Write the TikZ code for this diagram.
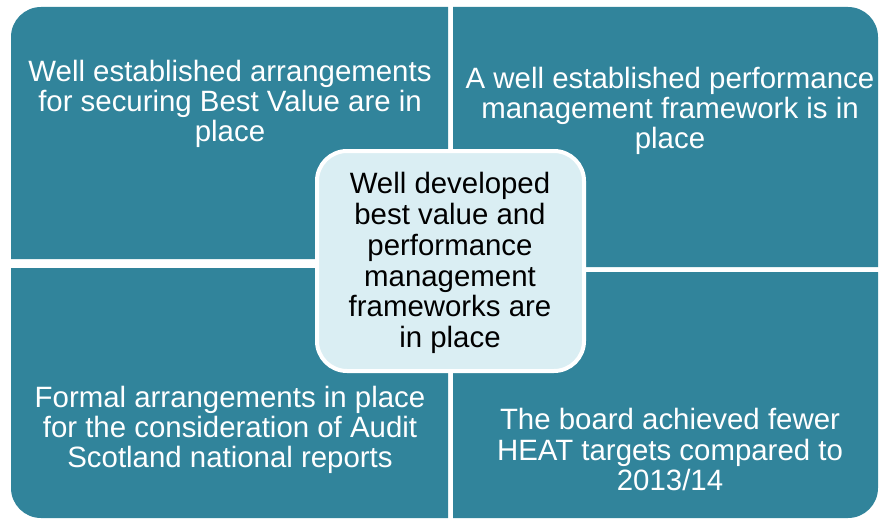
\documentclass[tikz,border=0pt]{standalone}
\usepackage{fontspec}
\setmainfont{Liberation Sans}
\definecolor{teal5}{HTML}{31849B}
\definecolor{lightc}{HTML}{DAEEF3}
\begin{document}
\begin{tikzpicture}[x=1pt,y=1pt,
  quad/.style={fill=teal5},
  qtext/.style={text=white,align=center,font=\fontsize{29.4}{30.2}\selectfont,inner sep=0pt},
  ctext/.style={text=black,align=center,font=\fontsize{29.4}{30.8}\selectfont,inner sep=0pt}]
\useasboundingbox (0,0) rectangle (879,-519);
% quadrants
\fill[quad] (11,-259) [rounded corners=30] -- (11,-7) [sharp corners] -- (448,-7) -- (448,-259) -- cycle;
\fill[quad] (453,-267) -- (453,-7) [rounded corners=30] -- (878,-7) [sharp corners] -- (878,-267) -- cycle;
\fill[quad] (448,-268) -- (11,-268) [rounded corners=30] -- (11,-518) [sharp corners] -- (448,-518) -- cycle;
\fill[quad] (453,-272) -- (453,-518) [rounded corners=30] -- (878,-518) [sharp corners] -- (878,-272) -- cycle;
% center
\node[draw=white,line width=4pt,fill=lightc,rounded corners=30,minimum width=267pt,minimum height=220pt,inner sep=0pt] (center) at (450.5,-261) {};
% texts
\node[qtext] (tl) at (230,-104) {Well established arrangements\\for securing Best Value are in\\place};
\node[qtext] (tr) at (670,-111) {A well established performance\\management framework is in\\place};
\node[qtext] (bl) at (230,-430) {Formal arrangements in place\\for the consideration of Audit\\Scotland national reports};
\node[qtext] (br) at (670,-449.5) {The board achieved fewer\\HEAT targets compared to\\2013/14};
\node[ctext] (ct) at (450,-263) {Well developed\\best value and\\performance\\management\\frameworks are\\in place};
\end{tikzpicture}
\end{document}
